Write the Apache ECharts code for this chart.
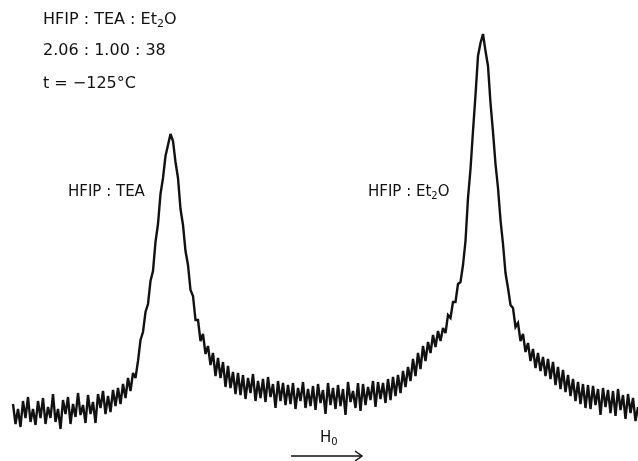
<!DOCTYPE html>
<html>
<head>
<meta charset="utf-8">
<script src="https://cdn.jsdelivr.net/npm/echarts@6/dist/echarts.min.js"></script>
<style>
  html, body { margin: 0; padding: 0; background: #fff; }
  #chart { width: 638px; height: 461px; }
</style>
</head>
<body>
<div id="chart"></div>
<script>
// 19F NMR trace, HFIP : TEA : Et2O at -125 C
// field position (arbitrary units, one step per sample) and intensity
const fieldStep = 2.5;
const intensity = [
  17, -3, 12, -6, 20, 3, 24, -1, 12, -4,
  20, 3, 23, -3, 14, 3, 27, -1, 12, -8,
  21, 7, 24, -3, 17, 4, 28, 6, 16, -2,
  26, 7, 19, -2, 27, 13, 30, 7, 25, 9,
  31, 15, 33, 17, 37, 23, 43, 30, 48, 43,
  60, 81, 89, 109, 117, 140, 150, 179, 197, 227,
  243, 265, 276, 287, 280, 259, 243, 212, 196, 170,
  156, 131, 125, 101, 101, 80, 87, 67, 75, 56,
  68, 45, 63, 43, 59, 34, 55, 33, 49, 27,
  48, 26, 46, 22, 43, 28, 47, 20, 40, 23,
  42, 19, 44, 24, 37, 13, 40, 20, 38, 16,
  36, 17, 38, 12, 33, 20, 39, 13, 32, 15,
  35, 11, 37, 18, 31, 7, 38, 16, 33, 12,
  36, 15, 32, 6, 39, 19, 30, 13, 38, 10,
  37, 16, 34, 21, 40, 14, 39, 22, 38, 18,
  42, 21, 44, 25, 46, 28, 50, 34, 54, 40,
  62, 45, 68, 52, 75, 60, 79, 68, 86, 74,
  90, 80, 93, 88, 106, 103, 119, 119, 137, 139,
  156, 180, 223, 252, 290, 326, 365, 378, 387, 370,
  355, 318, 289, 257, 233, 201, 177, 148, 133, 116,
  113, 94, 98, 80, 87, 69, 78, 60, 72, 53,
  68, 50, 64, 45, 62, 42, 59, 36, 54, 32,
  51, 29, 46, 25, 42, 20, 39, 17, 37, 13,
  36, 12, 35, 16, 32, 6, 33, 14, 31, 8,
  30, 5, 32, 11, 26, 2, 27, 8, 23, 0, 14
];
const headerLines = ['2.06 : 1.00 : 38', 't = \u2212125\u00b0C'];
const peakLabels = ['HFIP : TEA', 'HFIP : Et'];

const chart = echarts.init(document.getElementById('chart'));
const points = intensity.map((v, i) => [i * fieldStep, v]);

const ink = '#111';
const font = '15px "DejaVu Sans"';
const headFont = '16px "DejaVu Sans"';
const rich = {
  n: { fontSize: 15, fontFamily: 'DejaVu Sans', fill: ink },
  s: { fontSize: 10, fontFamily: 'DejaVu Sans', fill: ink, padding: [8, 0, 0, 0] }
};
const richHead = {
  n: { fontSize: 16, fontFamily: 'DejaVu Sans', fill: ink },
  s: { fontSize: 11, fontFamily: 'DejaVu Sans', fill: ink, padding: [8, 0, 0, 0] }
};

const option = {
  animation: false,
  backgroundColor: '#fff',
  grid: { left: 13, right: 0, top: 21, bottom: 20 },
  xAxis: { type: 'value', min: 0, max: 625, show: false },
  yAxis: { type: 'value', min: -20, max: 400, show: false },
  series: [{
    type: 'line',
    data: points,
    showSymbol: false,
    lineStyle: { color: ink, width: 2.4, join: 'miter', miterLimit: 3 }
  }],
  graphic: [
    { type: 'text', left: 43, top: 12,
      style: { text: '{n|HFIP : TEA : Et}{s|2}{n|O}', rich: richHead } },
    { type: 'text', left: 43, top: 43, style: { text: headerLines[0], font: headFont, fill: ink } },
    { type: 'text', left: 43, top: 76, style: { text: headerLines[1], font: headFont, fill: ink } },
    { type: 'text', left: 68, top: 185, style: { text: peakLabels[0], font: font, fill: ink } },
    { type: 'text', left: 368, top: 185,
      style: { text: '{n|' + peakLabels[1] + '}{s|2}{n|O}', rich: rich } },
    { type: 'text', left: 320, top: 431,
      style: { text: '{n|H}{s|0}', rich: rich } },
    { type: 'line', shape: { x1: 291, y1: 456, x2: 362, y2: 456 },
      style: { stroke: ink, lineWidth: 1.5 } },
    { type: 'polyline', shape: { points: [[355, 451], [362, 456], [355, 461]] },
      style: { stroke: ink, lineWidth: 1.5, fill: null } }
  ]
};
chart.setOption(option);
window.onresize = () => chart.resize();
</script>
</body>
</html>
